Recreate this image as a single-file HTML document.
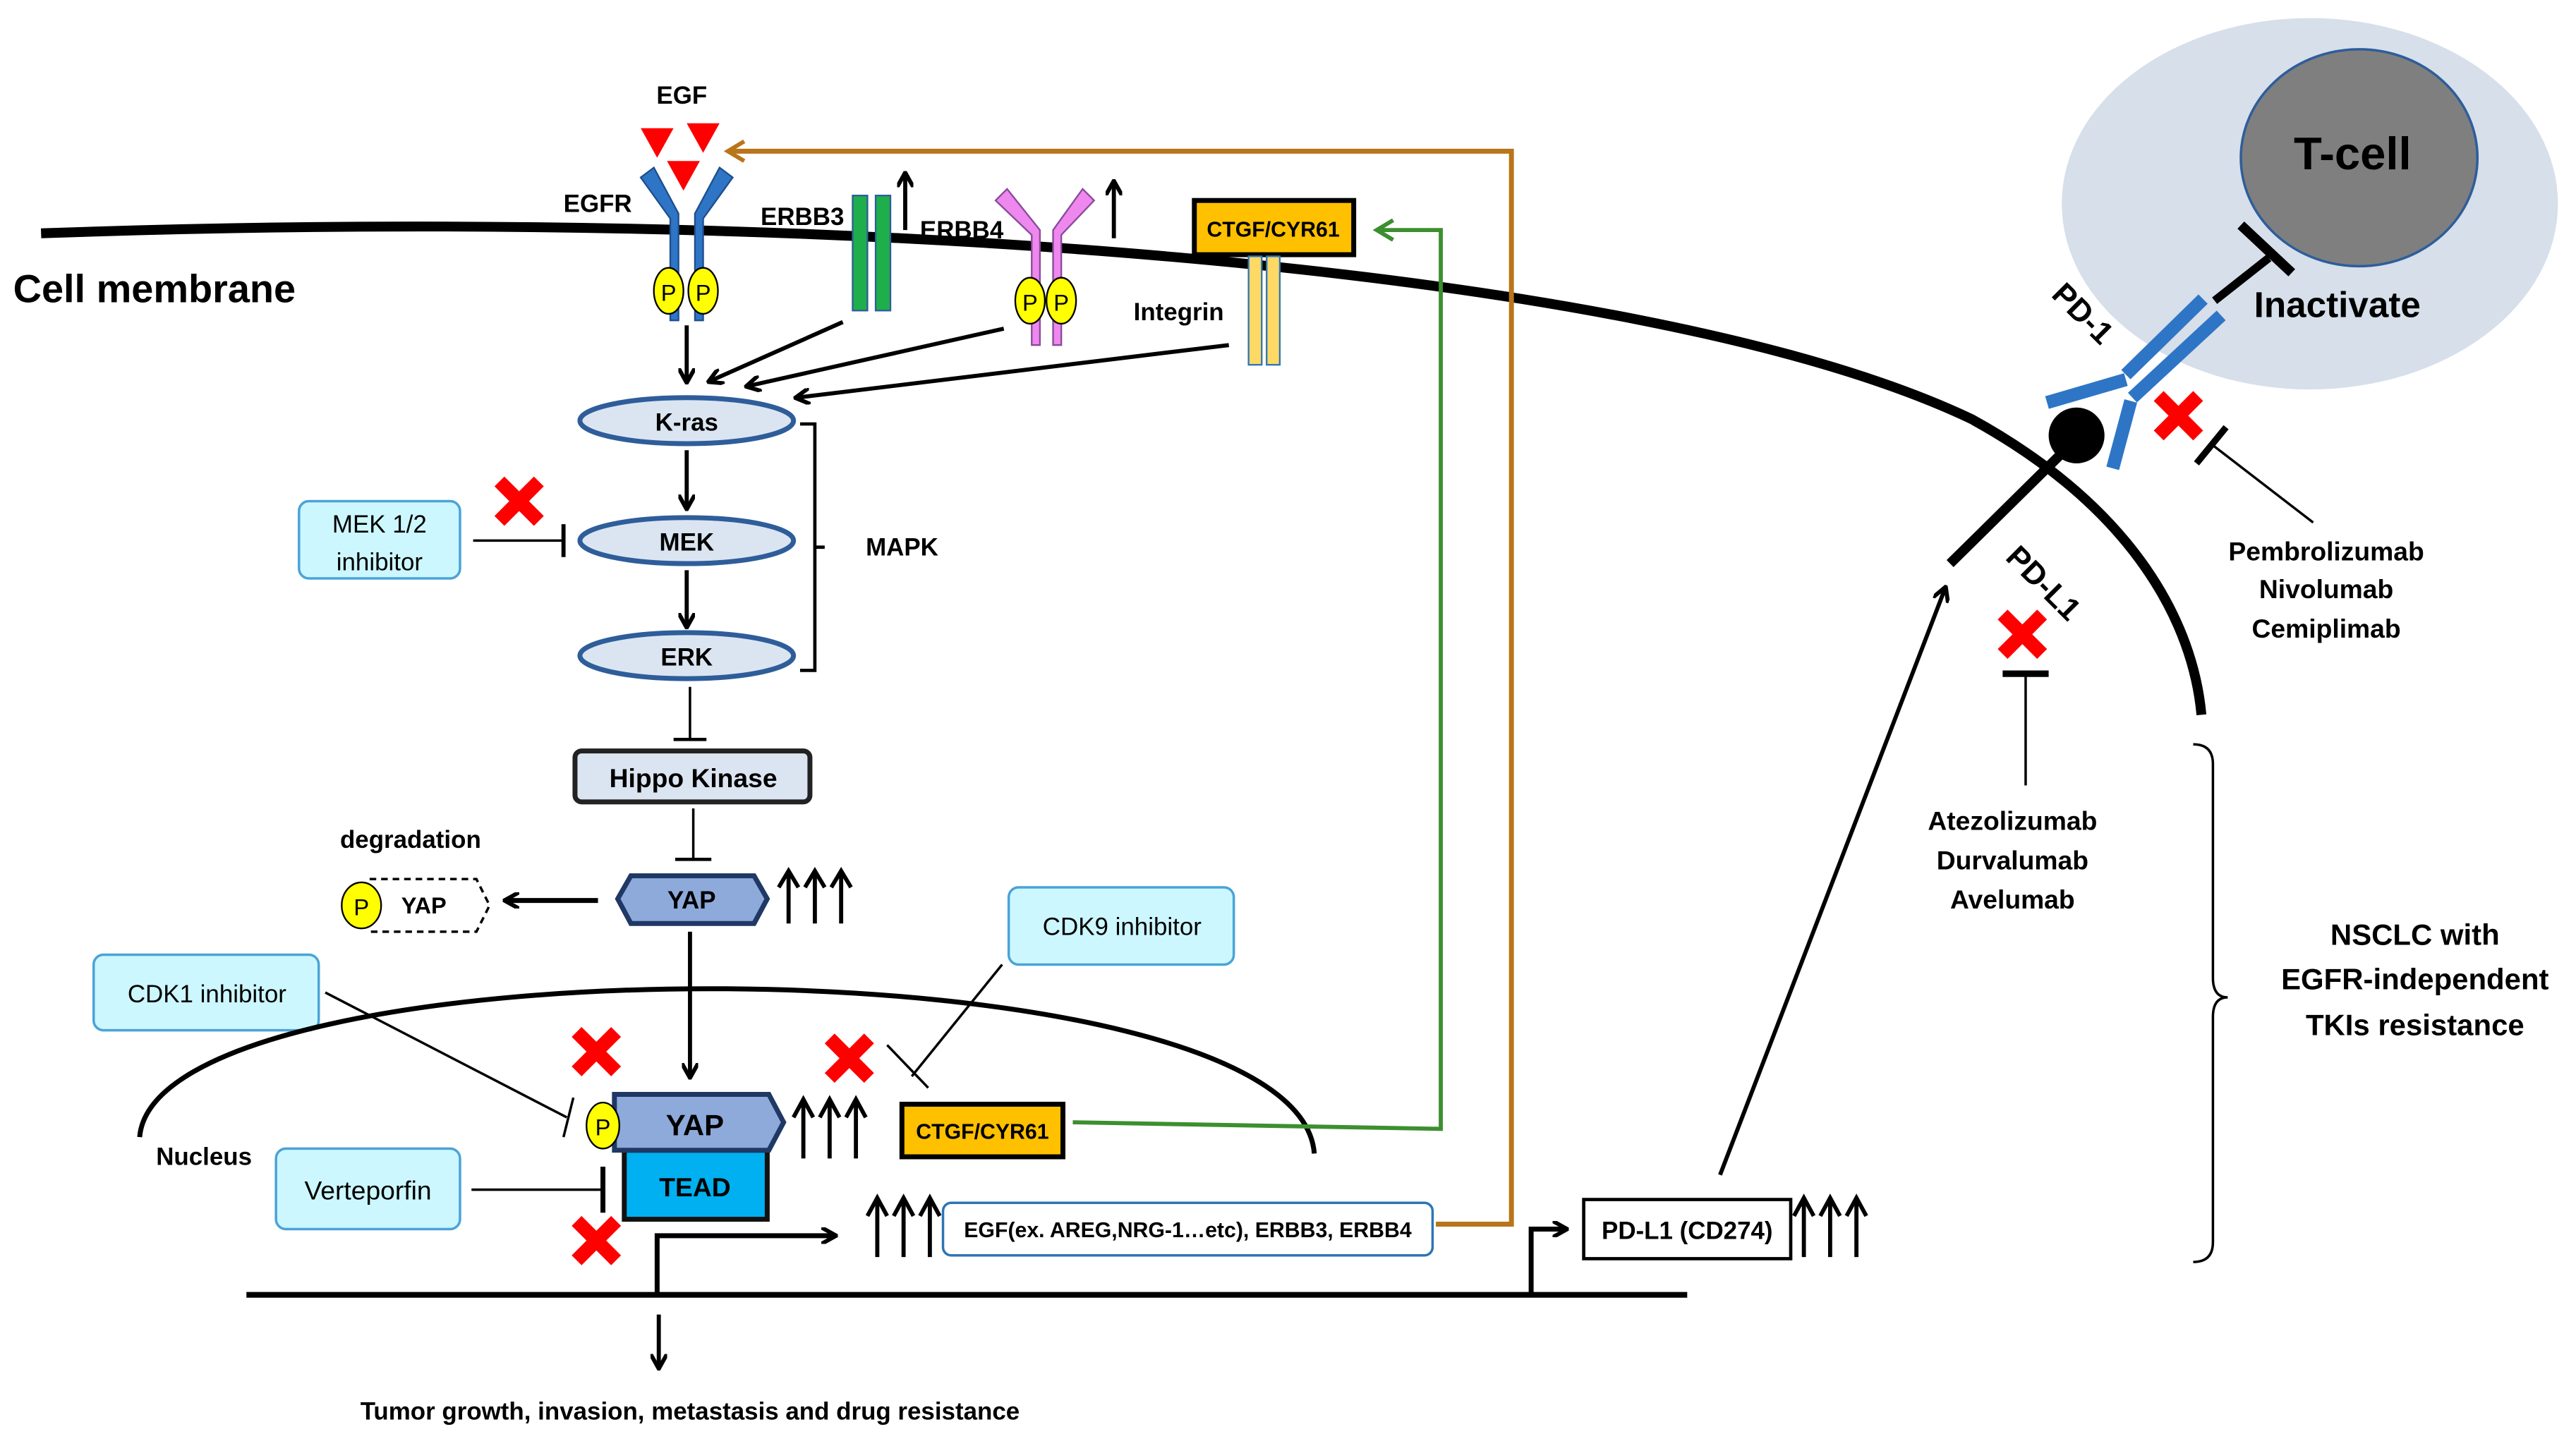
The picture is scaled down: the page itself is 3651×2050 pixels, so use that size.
<!DOCTYPE html>
<html><head><meta charset="utf-8"><style>
html,body{margin:0;padding:0;background:#fff;}
svg{display:block;}
text{font-family:"Liberation Sans",sans-serif;}
.b{font-weight:bold;}
</style></head><body>
<svg width="3651" height="2050" viewBox="0 0 1568 880" preserveAspectRatio="none" xmlns="http://www.w3.org/2000/svg">
<defs>
<marker id="ah" markerWidth="10" markerHeight="10" refX="8" refY="5" orient="auto" markerUnits="userSpaceOnUse"><path d="M0,0 L9,5 L0,10" fill="none" stroke="#000" stroke-width="2.5"/></marker>
<marker id="ahb" markerWidth="14" markerHeight="14" refX="11" refY="7" orient="auto" markerUnits="userSpaceOnUse"><path d="M1,1 L11,7 L1,13" fill="none" stroke="#b9751a" stroke-width="2.5"/></marker>
<marker id="ahg" markerWidth="14" markerHeight="14" refX="11" refY="7" orient="auto" markerUnits="userSpaceOnUse"><path d="M1,1 L11,7 L1,13" fill="none" stroke="#3c8f2f" stroke-width="2.5"/></marker>
<marker id="up" markerWidth="10" markerHeight="10" refX="5" refY="1" orient="auto-start-reverse" markerUnits="userSpaceOnUse"></marker>
</defs>

<!-- T-cell -->
<ellipse cx="1406" cy="124" rx="151" ry="113" fill="#d6dfea"/>
<ellipse cx="1436" cy="96" rx="72" ry="66" fill="#7f7f7f" stroke="#2e5d9a" stroke-width="1.5"/>
<text x="1432" y="103" class="b" font-size="28" text-anchor="middle">T-cell</text>

<!-- membrane -->
<path d="M25,142 C500,125 1000,160 1200,255 C1300,310 1335,380 1340,435" fill="none" stroke="#000" stroke-width="6"/>
<text x="8" y="184" class="b" font-size="24">Cell membrane</text>

<!-- PD-1 / PD-L1 -->
<line x1="1348" y1="183" x2="1381" y2="157" stroke="#000" stroke-width="5"/>
<line x1="1364" y1="137" x2="1395" y2="166" stroke="#000" stroke-width="6"/>
<text x="1372" y="193" class="b" font-size="22">Inactivate</text>
<g stroke="#2e75c6" stroke-width="8" fill="none">
<line x1="1341" y1="182" x2="1294" y2="228"/>
<line x1="1352" y1="192" x2="1298" y2="242"/>
<line x1="1294" y1="231" x2="1246" y2="245"/>
<line x1="1297" y1="244" x2="1286" y2="285"/>
</g>
<text transform="translate(1248,180) rotate(45)" class="b" font-size="19">PD-1</text>
<line x1="1264" y1="267" x2="1187" y2="343" stroke="#000" stroke-width="6"/>
<circle cx="1264" cy="265" r="17" fill="#000"/>
<text transform="translate(1220,340) rotate(45)" class="b" font-size="19">PD-L1</text>
<g fill="#f00"><path d="M1326,253 m-15,-9 l6,-6 l9,9 l9,-9 l6,6 l-9,9 l9,9 l-6,6 l-9,-9 l-9,9 l-6,-6 l9,-9z"/></g>
<line x1="1337" y1="282" x2="1355" y2="260" stroke="#000" stroke-width="4"/>
<line x1="1347" y1="271" x2="1408" y2="318" stroke="#000" stroke-width="1.5"/>
<g class="b" font-size="16" text-anchor="middle"><text x="1416" y="341">Pembrolizumab</text><text x="1416" y="364">Nivolumab</text><text x="1416" y="388">Cemiplimab</text></g>
<path d="M1231,386 m-15,-9 l6,-6 l9,9 l9,-9 l6,6 l-9,9 l9,9 l-6,6 l-9,-9 l-9,9 l-6,-6 l9,-9z" fill="#f00"/>
<line x1="1219" y1="410" x2="1247" y2="410" stroke="#000" stroke-width="4"/>
<line x1="1233" y1="410" x2="1233" y2="478" stroke="#000" stroke-width="1.5"/>
<g class="b" font-size="16" text-anchor="middle"><text x="1225" y="505">Atezolizumab</text><text x="1225" y="529">Durvalumab</text><text x="1225" y="553">Avelumab</text></g>

<!-- right bracket -->
<path d="M1335,453 Q1347,453 1347,465 L1347,595 Q1347,607 1356,607 Q1347,607 1347,619 L1347,756 Q1347,768 1335,768" fill="none" stroke="#000" stroke-width="1.5"/>
<g class="b" font-size="18" text-anchor="middle"><text x="1470" y="575">NSCLC with</text><text x="1470" y="602">EGFR-independent</text><text x="1470" y="630">TKIs resistance</text></g>

<!-- EGF -->
<text x="415" y="63" class="b" font-size="15" text-anchor="middle">EGF</text>
<g fill="#f00"><path d="M390,78 L410,78 L400,96z"/><path d="M418,75 L438,75 L428,93z"/><path d="M406,98 L426,98 L416,116z"/></g>
<!-- EGFR -->
<g stroke="#1f4e8c" stroke-width="1" fill="#2e75c6">
<path d="M390,108 L398,102 L413,130 L413,195 L408,195 L408,133z"/>
<path d="M446,108 L438,102 L423,130 L423,195 L428,195 L428,133z"/>
</g>
<text x="343" y="129" class="b" font-size="15">EGFR</text>
<ellipse cx="407" cy="177" rx="9" ry="14" fill="#ff0" stroke="#000"/><text x="407" y="183" font-size="14" text-anchor="middle">P</text>
<ellipse cx="428" cy="177" rx="9" ry="14" fill="#ff0" stroke="#000"/><text x="428" y="183" font-size="14" text-anchor="middle">P</text>
<!-- ERBB3 -->
<rect x="519" y="119" width="9" height="70" fill="#1fae4c" stroke="#2e5d9a"/>
<rect x="533" y="119" width="9" height="70" fill="#1fae4c" stroke="#2e5d9a"/>
<text x="463" y="137" class="b" font-size="15">ERBB3</text>
<line x1="551" y1="140" x2="551" y2="106" stroke="#000" stroke-width="2.5" marker-end="url(#ah)"/>
<!-- ERBB4 -->
<g stroke="#8a4a9a" stroke-width="1" fill="#ee88ee">
<path d="M606,122 L613,115 L633,140 L633,210 L628,210 L628,143z"/>
<path d="M666,122 L659,115 L641,140 L641,210 L646,210 L646,143z"/>
</g>
<text x="560" y="145" class="b" font-size="15">ERBB4</text>
<ellipse cx="627" cy="183" rx="9" ry="14" fill="#ff0" stroke="#000"/><text x="627" y="189" font-size="14" text-anchor="middle">P</text>
<ellipse cx="646" cy="183" rx="9" ry="14" fill="#ff0" stroke="#000"/><text x="646" y="189" font-size="14" text-anchor="middle">P</text>
<line x1="678" y1="145" x2="678" y2="111" stroke="#000" stroke-width="2.5" marker-end="url(#ah)"/>
<!-- CTGF membrane -->
<rect x="727" y="122" width="97" height="33" fill="#ffc000" stroke="#000" stroke-width="3"/>
<text x="775" y="144" class="b" font-size="13" text-anchor="middle">CTGF/CYR61</text>
<rect x="760" y="156" width="8" height="66" fill="#ffd966" stroke="#2e75b6"/>
<rect x="771" y="156" width="8" height="66" fill="#ffd966" stroke="#2e75b6"/>
<text x="690" y="195" class="b" font-size="15">Integrin</text>

<!-- arrows to Kras -->
<g stroke="#000" stroke-width="2.5" fill="none" marker-end="url(#ah)">
<line x1="418" y1="198" x2="418" y2="232"/>
<line x1="513" y1="196" x2="432" y2="232"/>
<line x1="611" y1="200" x2="455" y2="235"/>
<line x1="748" y1="210" x2="485" y2="242"/>
<line x1="418" y1="274" x2="418" y2="309"/>
<line x1="418" y1="347" x2="418" y2="381"/>
</g>
<g fill="#dbe5f1" stroke="#2e5d9a" stroke-width="3">
<ellipse cx="418" cy="256" rx="65" ry="14"/>
<ellipse cx="418" cy="329" rx="65" ry="14"/>
<ellipse cx="418" cy="399" rx="65" ry="14"/>
</g>
<g class="b" font-size="15" text-anchor="middle"><text x="418" y="262">K-ras</text><text x="418" y="335">MEK</text><text x="418" y="405">ERK</text></g>
<path d="M487,258 L496,258 L496,408 L487,408 M496,333 L502,333" fill="none" stroke="#000" stroke-width="2"/>
<text x="527" y="338" class="b" font-size="15">MAPK</text>

<!-- MEK inhibitor -->
<rect x="182" y="305" width="98" height="47" rx="6" fill="#ccf7ff" stroke="#4aa3d8" stroke-width="1.5"/>
<text x="231" y="324" font-size="15" text-anchor="middle">MEK 1/2</text><text x="231" y="347" font-size="15" text-anchor="middle">inhibitor</text>
<line x1="288" y1="329" x2="343" y2="329" stroke="#000" stroke-width="1.5"/>
<line x1="343" y1="319" x2="343" y2="339" stroke="#000" stroke-width="2.5"/>
<path d="M316,305 m-15,-9 l6,-6 l9,9 l9,-9 l6,6 l-9,9 l9,9 l-6,6 l-9,-9 l-9,9 l-6,-6 l9,-9z" fill="#f00"/>

<!-- Hippo -->
<line x1="420" y1="418" x2="420" y2="450" stroke="#000" stroke-width="1.5"/>
<line x1="410" y1="450" x2="430" y2="450" stroke="#000" stroke-width="2"/>
<rect x="350" y="457" width="143" height="31" rx="4" fill="#dbe5f1" stroke="#222" stroke-width="3"/>
<text x="422" y="479" class="b" font-size="16" text-anchor="middle">Hippo Kinase</text>
<line x1="422" y1="492" x2="422" y2="522" stroke="#000" stroke-width="1.5"/>
<line x1="411" y1="523" x2="433" y2="523" stroke="#000" stroke-width="2"/>
<!-- YAP cyto -->
<path d="M384,533 L459,533 L467,547 L459,562 L384,562 L376,547z" fill="#8eaadb" stroke="#1f3864" stroke-width="3"/>
<text x="421" y="553" class="b" font-size="15" text-anchor="middle">YAP</text>
<g stroke="#000" stroke-width="2.5" fill="none"><path d="M480,562 L480,532 M474,540 L480,530 L486,540"/><path d="M496,562 L496,532 M490,540 L496,530 L502,540"/><path d="M512,562 L512,532 M506,540 L512,530 L518,540"/></g>
<line x1="364" y1="548" x2="308" y2="548" stroke="#000" stroke-width="3" marker-end="url(#ah)"/>
<text x="207" y="516" class="b" font-size="15">degradation</text>
<path d="M225,535 L290,535 L298,551 L290,567 L225,567" fill="none" stroke="#000" stroke-width="1.5" stroke-dasharray="4,3"/>
<ellipse cx="220" cy="551" rx="12" ry="14" fill="#ff0" stroke="#000"/><text x="220" y="557" font-size="14" text-anchor="middle">P</text>
<text x="258" y="556" class="b" font-size="14" text-anchor="middle">YAP</text>

<!-- inhibitors -->
<rect x="614" y="540" width="137" height="47" rx="6" fill="#ccf7ff" stroke="#4aa3d8" stroke-width="1.5"/>
<text x="683" y="569" font-size="15" text-anchor="middle">CDK9 inhibitor</text>
<rect x="57" y="581" width="137" height="46" rx="6" fill="#ccf7ff" stroke="#4aa3d8" stroke-width="1.5"/>
<text x="126" y="610" font-size="15" text-anchor="middle">CDK1 inhibitor</text>
<rect x="168" y="699" width="112" height="49" rx="6" fill="#ccf7ff" stroke="#4aa3d8" stroke-width="1.5"/>
<text x="224" y="730" font-size="16" text-anchor="middle">Verteporfin</text>

<!-- nucleus -->
<path d="M85,692 C95,570 790,570 800,702" fill="none" stroke="#000" stroke-width="3"/>
<text x="95" y="709" class="b" font-size="15">Nucleus</text>
<line x1="420" y1="567" x2="420" y2="655" stroke="#000" stroke-width="2.5" marker-end="url(#ah)"/>
<line x1="198" y1="604" x2="345" y2="680" stroke="#000" stroke-width="1.5"/>
<line x1="349" y1="668" x2="343" y2="692" stroke="#000" stroke-width="1.5"/>
<line x1="610" y1="587" x2="555" y2="655" stroke="#000" stroke-width="1.5"/>
<line x1="540" y1="636" x2="565" y2="662" stroke="#000" stroke-width="1.5"/>
<path d="M363,640 m-15,-9 l6,-6 l9,9 l9,-9 l6,6 l-9,9 l9,9 l-6,6 l-9,-9 l-9,9 l-6,-6 l9,-9z" fill="#f00"/>
<path d="M517,644 m-15,-9 l6,-6 l9,9 l9,-9 l6,6 l-9,9 l9,9 l-6,6 l-9,-9 l-9,9 l-6,-6 l9,-9z" fill="#f00"/>
<path d="M363,755 m-15,-9 l6,-6 l9,9 l9,-9 l6,6 l-9,9 l9,9 l-6,6 l-9,-9 l-9,9 l-6,-6 l9,-9z" fill="#f00"/>
<!-- YAP/TEAD -->
<rect x="380" y="700" width="87" height="42" fill="#00b0f0" stroke="#111" stroke-width="3"/>
<text x="423" y="728" class="b" font-size="16" text-anchor="middle">TEAD</text>
<path d="M374,666 L468,666 L477,683 L468,700 L374,700z" fill="#8eaadb" stroke="#1f3864" stroke-width="3"/>
<text x="423" y="691" class="b" font-size="18" text-anchor="middle">YAP</text>
<ellipse cx="367" cy="685" rx="10" ry="14" fill="#ff0" stroke="#000"/><text x="367" y="691" font-size="14" text-anchor="middle">P</text>
<g stroke="#000" stroke-width="2.5" fill="none"><path d="M489,705 L489,671 M483,680 L489,669 L495,680"/><path d="M505,705 L505,671 M499,680 L505,669 L511,680"/><path d="M521,705 L521,671 M515,680 L521,669 L527,680"/></g>
<rect x="549" y="672" width="98" height="32" fill="#ffc000" stroke="#000" stroke-width="3"/>
<text x="598" y="693" class="b" font-size="13" text-anchor="middle">CTGF/CYR61</text>
<line x1="287" y1="724" x2="366" y2="724" stroke="#000" stroke-width="1.5"/>
<line x1="367" y1="710" x2="367" y2="738" stroke="#000" stroke-width="3"/>

<!-- feedback lines -->
<path d="M653,683 L877,687 L877,140 L838,140" fill="none" stroke="#3c8f2f" stroke-width="2.5" marker-end="url(#ahg)"/>
<path d="M874,745 L920,745 L920,92 L443,92" fill="none" stroke="#b9751a" stroke-width="3" marker-end="url(#ahb)"/>

<!-- DNA -->
<line x1="150" y1="788" x2="1027" y2="788" stroke="#000" stroke-width="3.5"/>
<path d="M400,788 L400,752 L508,752" fill="none" stroke="#000" stroke-width="3" marker-end="url(#ah)"/>
<line x1="401" y1="800" x2="401" y2="832" stroke="#000" stroke-width="2.5" marker-end="url(#ah)"/>
<text x="420" y="864" class="b" font-size="15" text-anchor="middle">Tumor growth, invasion, metastasis and drug resistance</text>
<g stroke="#000" stroke-width="2.5" fill="none"><path d="M534,765 L534,731 M528,740 L534,729 L540,740"/><path d="M550,765 L550,731 M544,740 L550,729 L556,740"/><path d="M566,765 L566,731 M560,740 L566,729 L572,740"/></g>
<rect x="574" y="732" width="298" height="32" rx="5" fill="#fff" stroke="#2e75b6" stroke-width="1.5"/>
<text x="723" y="753" class="b" font-size="13" text-anchor="middle">EGF(ex. AREG,NRG-1…etc), ERBB3, ERBB4</text>
<path d="M932,788 L932,748 L953,748" fill="none" stroke="#000" stroke-width="3" marker-end="url(#ah)"/>
<rect x="964" y="730" width="126" height="36" fill="#fff" stroke="#000" stroke-width="2"/>
<text x="1027" y="754" class="b" font-size="15" text-anchor="middle">PD-L1 (CD274)</text>
<g stroke="#000" stroke-width="2.5" fill="none"><path d="M1098,765 L1098,731 M1092,740 L1098,729 L1104,740"/><path d="M1114,765 L1114,731 M1108,740 L1114,729 L1120,740"/><path d="M1130,765 L1130,731 M1124,740 L1130,729 L1136,740"/></g>
<line x1="1047" y1="715" x2="1184" y2="358" stroke="#000" stroke-width="2.5" marker-end="url(#ah)"/>
</svg>
</body></html>
